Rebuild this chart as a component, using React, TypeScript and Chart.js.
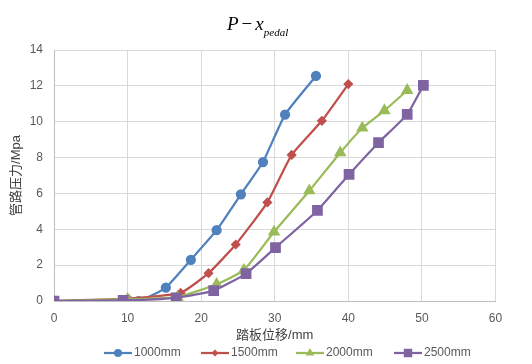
import React, { useEffect, useRef } from "react";
import { Chart, registerables } from "chart.js";

Chart.register(...registerables);

const seriesNames = ["1000mm", "1500mm", "2000mm", "2500mm"];
const seriesColors = ["#4f81bd", "#c0504d", "#9bbb59", "#8064a2"];

const x1000 = [0, 11.5, 15.2, 18.6, 22.1, 25.4, 28.4, 31.4, 35.6];
const y1000 = [0, 0, 0.75, 2.3, 3.95, 5.95, 7.75, 10.4, 12.55];

const x1500 = [0, 10.1, 17.2, 21.0, 24.7, 29.0, 32.3, 36.4, 40.0];
const y1500 = [0, 0.13, 0.45, 1.55, 3.15, 5.5, 8.15, 10.05, 12.1];

const x2000 = [0, 10.0, 16.8, 22.1, 25.8, 29.9, 34.7, 38.9, 41.9, 44.9, 48.0];
const y2000 = [0, 0.1, 0.22, 0.93, 1.72, 3.85, 6.15, 8.27, 9.65, 10.62, 11.75];

const x2500 = [0, 9.4, 16.6, 21.7, 26.1, 30.1, 35.8, 40.1, 44.1, 48.0, 50.2];
const y2500 = [0, 0.04, 0.18, 0.58, 1.53, 2.98, 5.05, 7.06, 8.83, 10.41, 12.03];

const xTitle = "踏板位移/mm";
const yTitle = "管路压力/Mpa";

const pointStyles = ["circle", "rectRot", "triangle", "rect"];
const pointRadii = [4, 3.5, 5, 6];

const FONT = "'Liberation Sans', 'Noto Sans CJK SC', sans-serif";

function toPoints(xs: number[], ys: number[]) {
  return xs.map((x, i) => ({ x, y: ys[i] }));
}

function drawMarker(ctx: CanvasRenderingContext2D, style: string, r: number, x: number, y: number) {
  ctx.beginPath();
  if (style === "circle") {
    ctx.arc(x, y, r, 0, Math.PI * 2);
  } else if (style === "rect") {
    const s = r * Math.SQRT1_2;
    ctx.rect(x - s, y - s, 2 * s, 2 * s);
  } else if (style === "rectRot") {
    ctx.moveTo(x, y - r);
    ctx.lineTo(x + r, y);
    ctx.lineTo(x, y + r);
    ctx.lineTo(x - r, y);
    ctx.closePath();
  } else if (style === "triangle") {
    ctx.moveTo(x, y - r);
    ctx.lineTo(x + r * 0.866, y + r * 0.5);
    ctx.lineTo(x - r * 0.866, y + r * 0.5);
    ctx.closePath();
  }
  ctx.fill();
}

const titlePlugin = {
  id: "mathTitle",
  afterDraw(chart: any) {
    const ctx = chart.ctx;
    ctx.save();
    ctx.fillStyle = "#000";
    ctx.textBaseline = "alphabetic";
    const base = 30;
    let x = 227;
    ctx.font = "italic 19px 'Liberation Serif', serif";
    ctx.fillText("P", x, base);
    x += ctx.measureText("P").width + 3;
    ctx.font = "19px 'Liberation Serif', serif";
    ctx.fillText("−", x, base);
    x += ctx.measureText("−").width + 3;
    ctx.font = "italic 19px 'Liberation Serif', serif";
    ctx.fillText("x", x, base);
    x += ctx.measureText("x").width;
    ctx.font = "italic 11px 'Liberation Serif', serif";
    ctx.fillText("pedal", x, base + 6);
    ctx.restore();
  },
};

const legendPlugin = {
  id: "lineLegend",
  afterDraw(chart: any) {
    const ctx = chart.ctx;
    const starts = [104, 201, 296, 394];
    const cy = 353;
    ctx.save();
    chart.data.datasets.forEach((ds: any, i: number) => {
      const sx = starts[i];
      ctx.strokeStyle = ds.borderColor;
      ctx.fillStyle = ds.borderColor;
      ctx.lineWidth = 2.25;
      ctx.beginPath();
      ctx.moveTo(sx, cy);
      ctx.lineTo(sx + 28, cy);
      ctx.stroke();
      drawMarker(ctx, ds.pointStyle, ds.pointRadius, sx + 14, cy);
      ctx.fillStyle = "#595959";
      ctx.font = "12px " + FONT;
      ctx.textBaseline = "middle";
      ctx.textAlign = "left";
      ctx.fillText(seriesNames[i], sx + 30, cy);
    });
    ctx.restore();
  },
};

export default function App() {
  const ref = useRef<HTMLCanvasElement | null>(null);

  useEffect(() => {
    if (!ref.current) return;
    const xs = [x1000, x1500, x2000, x2500];
    const ys = [y1000, y1500, y2000, y2500];
    const datasets = seriesNames.map((name, i) => ({
      label: name,
      data: toPoints(xs[i], ys[i]),
      borderColor: seriesColors[i],
      backgroundColor: seriesColors[i],
      pointBackgroundColor: seriesColors[i],
      pointBorderColor: seriesColors[i],
      pointStyle: pointStyles[i],
      pointRadius: pointRadii[i],
      borderWidth: 2.25,
      tension: 0.15,
      order: 3 - i,
    }));

    const chart = new Chart(ref.current, {
      type: "line",
      data: { datasets },
      options: {
        animation: false,
        responsive: false,
        layout: { padding: { left: 0, right: 36.5, top: 50, bottom: 18 } },
        plugins: {
          legend: { display: false },
          tooltip: { enabled: false },
          title: { display: false },
        },
        scales: {
          x: {
            type: "linear",
            min: 0,
            max: 60,
            ticks: {
              stepSize: 10,
              color: "#595959",
              font: { size: 12, family: FONT },
              padding: 10,
            },
            grid: { color: "#d9d9d9", drawTicks: false },
            border: { color: "#bfbfbf" },
            title: {
              display: true,
              text: xTitle,
              color: "#404040",
              font: { size: 13, family: FONT },
              padding: { top: 0, bottom: 3 },
            },
            afterFit(scale: any) {
              scale.height = 45;
            },
          },
          y: {
            type: "linear",
            min: 0,
            max: 14,
            ticks: {
              stepSize: 2,
              color: "#595959",
              font: { size: 12, family: FONT },
              padding: 11,
            },
            grid: { color: "#d9d9d9", drawTicks: false },
            border: { color: "#bfbfbf" },
            title: {
              display: true,
              text: yTitle,
              color: "#404040",
              font: { size: 13, family: FONT },
              padding: { top: 9, bottom: 0 },
            },
            afterFit(scale: any) {
              scale.width = 54;
            },
          },
        },
      },
      plugins: [titlePlugin, legendPlugin],
    } as any);
    return () => chart.destroy();
  }, []);

  return (
    <div style={{ position: "absolute", left: 0, top: 0, width: 532, height: 364, background: "#fff" }}>
      <canvas ref={ref} width={532} height={364} style={{ width: 532, height: 364, display: "block" }} />
    </div>
  );
}
